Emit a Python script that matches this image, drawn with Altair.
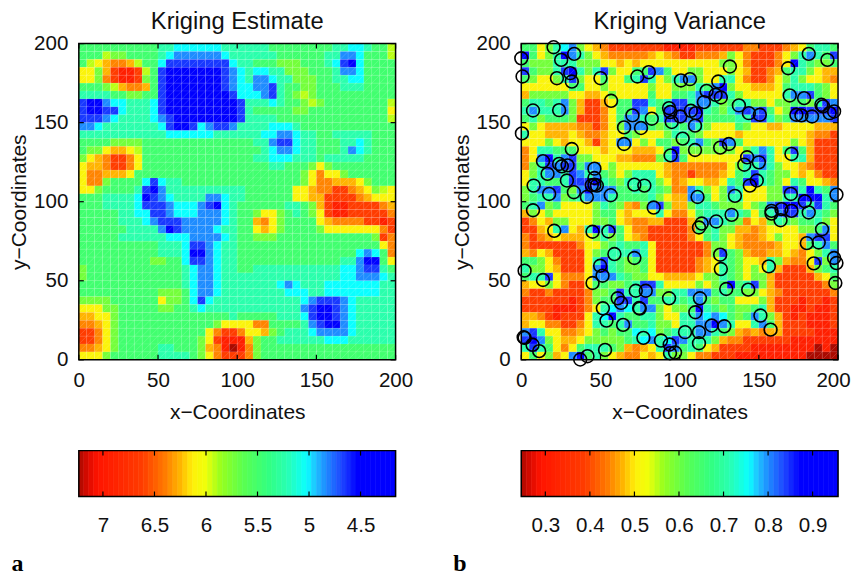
import altair as alt
import numpy as np
import pandas as pd

TITLE_A = "Kriging Estimate"
TITLE_B = "Kriging Variance"
X_TITLE = "x\u2212Coordinates"
Y_TITLE = "y\u2212Coordinates"
TICKS = [0, 50, 100, 150, 200]
BAR_TICKS_A = [7, 6.5, 6, 5.5, 5, 4.5]
BAR_TICKS_B = [0.3, 0.4, 0.5, 0.6, 0.7, 0.8, 0.9]
BAR_DOMAIN_A = [7.234, 4.16]
BAR_DOMAIN_B = [0.246, 0.957]

COLOR_POS = [0, .03, .06, .2, .27, .32, .36, .40, .45, .52, .60, .66, .72, .745, .78, .83, .88, 1]
COLOR_HEX = ["#aa0a00", "#dc0a00", "#ff1400", "#ff3c00", "#ff7800", "#ffb400", "#fff00a", "#f0ff0a",
             "#96ff1e", "#5aff50", "#32ff82", "#28ffb4", "#0affff", "#1ec8ff", "#1e8cff", "#1e46ff",
             "#0000ff", "#0000ff"]
LEVEL = {"D": 0.0, "R": .1, "r": .2, "o": .28, "O": .32, "y": .37, "l": .43, "h": .49,
         "g": .57, "t": .65, "C": .72, "c": .78, "b": .84, "B": .92}

ROWS_A = [
"gggggggggg ttCCCCCCtt ttttgggggg ggttCCtggl",
"ggglhhgggg tCccccccCt tttttggggg gttccCgggl",
"glyOooOlgg CbbbbbbbbC ttggghhhgg gtCbBCgggg",
"yyhOrRRrlg bBBBBBBBbc CtCCtthhhg ggtccCgggg",
"yyhorRRrhg bBBBBBBBbc CtccCtthhh ggttCCgggg",
"ggghlOooOg bBBBBBBBbc CCccbtgghh gggtttgggg",
"ttttgghhgg bBBBBBBBBb CCCcbtghlh gggggggggg",
"bBBcCCtttC bBBBBBBBBB btttCtgghl hggggggggl",
"bBBbbCtttC bBBBBBBBBB btggggghhg gggggggggy",
"bbbcCttttC cbBBBBBBBB bttttggggg gggggggggl",
"ccCttttttt CbBBbCcbbc ttttCCCtgg gggggggggg",
"tttttttttt tCCCCCCttt tttCCccCtt ggtttttggg",
"gggghhhhgg gggggggggg ggttcbbCtt gggttCtggg",
"ghhyOOylgg gggggggggg gggtCccCtt gggtcCtggg",
"hyOorroygg gggggggggg ggttCCCttt gtttttgggg",
"yOOorroygg gggggggggg ggggttgggh yhgggggggg",
"yooOOOyggg gggggggggg gggggggghy oyyhgggggg",
"yoohggggCb Cttggggggg gggggggghy ooOOOyhggg",
"yyhggggtbB cttttttttt tggggggyyO oorroOyhly",
"gggttttCBb cCttttccCt tggggggyyO OrrrroOyyy",
"gggttttCbb bcCCCcbBCt ggggggttgh OrRRrrrroO",
"gggggttCCb bcCCCcccCt gghyyhgtgh yrRRrrrrro",
"gggggtttCc bbbcccccCt ggOoyhgggg yOoooorrRr",
"ggggggtttt cBbccccCtt ggyOyhgggg hyyyyyyyor",
"gggggttttt tCCCccccCt gghhhggggg ggggggghro",
"gggggggggg tttCbbcCtt gggggggggg ggggggggyo",
"gggggggggg tttCBBcCtt gggggggggg gggggCcCgo",
"gggggggggh hggCbbcCtt gggggggggg gggttcBBgy",
"hggggggggg gggtCccCtt ggtttttttt tttCCcbbtg",
"hggggggggg gggtCccCtt tttttttttt tttCCcccCt",
"gggggggggg gggtCccCtt tttttCcCtt tCCCCCCCtt",
"gggggggggg hhhgCccCtt ttttttCCCt tCCCCCCCtt",
"hhhhgggggg yhhgCbCttt ttttttttCc bbbcCttttt",
"yyyhhggggg hhggtCtttt ttttttttcb BBbcCttttt",
"OOyyhggggg gggggggggt gggggtttCb BBbcCttttt",
"ooOyhggggg ggggggghyy yyooggggtc bBBcCttttt",
"rroyhggggg ggggggyorr oyyOhgtttC ccccCttttt",
"rroyhggggg ggggghyrRR ROhggttttt tCCCtttttt",
"ooOyhggggg ttggghOoRD Rohggggggg gggggggggg",
"yyyhgggggg ttttghyorr rohggggggg gggggggggg",
]

ROWS_B = [
"ggyhtCchyO orrrrrrrRR RRrrrrrroo rrroOygttg",
"BgyhtBcthy OoooooOyOo rroooOhyor rroyhtctgb",
"ghhhttthhh yyOyOyyyyy yyyyyhhyor rroyBtghhg",
"bghhtbBtht bhyyggbcgy yhhyyyhyOr roOgtthyOO",
"ghyyhtbhyy gyygtbtyht cchyyttyor royhthyyOo",
"yyyyyyggyy hyyyyyhyyh hhtgcBhyyO OOygtttghy",
"OhhhhhyyOO yhyyyygyyg gtcbbbthyy yyytccbghy",
"gttgtchOrr Oyggbbtgtb btccthgtth hyhhgghtbc",
"tctttchOrr oyggbcygbb bbBtghtcbc bgyhBBbbbB",
"gthggghrrr oygcctgtbb bcbggggttb bthgcccccb",
"yhyOOOOoor oyhcccghgt gcthyyyghy yOOyyyyOOO",
"tyyOOOyOoo Oyyghyyyht tghyyyyOyy yyyyyyOoor",
"yyyhyOyyOr Oyccyhyggh gtcghbcgyy yyyyhyOrrr",
"oyttgggyyy OyyyOOOygB hhhhhhhyht ctygbgOrrr",
"oycBtcbhhy yyOOooohtb gyyyyyyybc btyyttOrrr",
"ohtbcbbgcc yhyyyyyyOo ooooooyhtt cthyyOorrr",
"yhtcctbctc ghyhtttyOo oroooOygtb tghhyOyorr",
"yttggtbbbB tghtttthyo OyyOOytgbB tghytgyyOo",
"htccbghcBc ccggtgtgho octhyhctyy yhhbbtBtgc",
"hgttchgtcc ctggggthyO Occgyhttyy yhhttBBBtc",
"gtchgyyyyh tghOohcbhO Ohttghhhyh gcbBBbtbtg",
"Ohyhyyyyyh ggyOyyytyo oygtttctgy gtcbbtctgh",
"royOhhyyyh hgyOooOOrr rOhcctghoy Ohtghggthy",
"rrOytcyOtB tbgyoorrrr roggthhOOo Oyyyyhhgcy",
"oroOyOOOyh thgyOorrrr roygthyOoo OyhyyOcbby",
"orrrrrroyy hgtggtyrrr rrrohhyOoo ooOyyOgtcg",
"OoyOrrrryh gtttctyrrr rrrohbghOo oOOyOoyhtc",
"gghyorrryt btghggyrrr rroOytghyy OthOooybhc",
"thhyOrrryc Btghhgyrrr rroOytghyh ytOrrrOhgt",
"gttbyoooyc cctghhyyOO OOyhhtghyh hOrrrrrOyg",
"Oyyhyorryg ghhgtbbtyy yyhyhgBgtb hOrrrrrroh",
"orrorrrroh hgbttcchht tcccgtgghh yOorrrrrro",
"rrrrrrRroh ggbbtbggtt gtcghggyyy hOrrrRrrRr",
"rrrrRRRroy tCcCtcchyh hgBtghghhg tOrrRRrRRr",
"OOorRrrryt CBtggtthyy ttcCcCghgc thOrRrRRRr",
"Oyyoorroyt tgtcggthhy ttccBctyyt cgOrrrRRRr",
"cbtyyooOyh ghggCtChgt ttcctghOoO oOOrrrrRRR",
"bBchyOOyhh hhhgtCctCb cttthOoorr rrrrRRRRRR",
"tbtgyoygtt tghOoOytbc gtgyOrrrrR RRRRRRRDRD",
"ygyhOycBgt hyOooyOyth hyoorrrRRR RRRRRRDDDD",
]

PTS_X = [20.4,0,25.2,33.4,.8,22.5,30.9,31.9,50,73.3,80.5,100.8,106.5,131.7,124.4,168.5,181.5,193.3,117,122.7,126,115.3,169.5,178.6,189.5,190.5,137.4,143.7,150.6,7.4,23.9,56.7,93.3,94.1,95,100.4,107.1,110.1,109.7,70.2,82.4,64.9,75.6,.4,64.9,101.9,109.7,94.3,125.6,131.1,31.9,13.7,23.9,25.6,29.2,16.6,28.8,46.2,7.8,17.6,33.2,41.4,46.2,44.5,46.2,47.7,71.4,77.7,56.5,111.3,134.9,170.6,142.6,140.8,150,148.7,144.3,170.2,179,199,173.7,176.9,183.6,194.7,197.5,
7.4,83.6,158,158,164.3,170.6,181.5,163.7,132.8,123.1,113.9,112.2,189.9,20.8,45,55,180.3,187.8,58.8,71.4,125.6,126,49.8,51.3,45,156.3,184.7,197.5,199,2.1,13.7,198.3,129.4,143.3,72.3,78.6,60.9,63,93.3,112.8,51.5,74.4,74.8,109.9,53.8,64.3,151,157.4,120.2,128.2,103.4,112.2,112.2,77.1,88.2,93.7,93.9,97.1,52.9,41.8,37.2,1.5,2.1,7.1,11.3]
PTS_Y = [197.7,190.7,189.7,193.5,179.2,178.1,181.3,176,178.1,179.2,181.9,176.7,177.5,185.5,176,184.4,193.5,189.7,170.1,167.6,165.9,163,167.2,165.5,161.3,160.3,160.9,156,155,157.7,157.9,163.8,159.2,156.7,150.4,153.9,157.5,156,148.1,154.6,152.5,147,146.6,143.2,136.5,139.9,132.7,129.3,134.2,136.5,133.3,125.6,123.9,122.4,123,117.6,113.4,120.9,110.2,104.9,106,103,115,110.4,110.8,110.2,110.8,110.2,104.1,103,103.7,130.2,128.1,123.4,124.9,113.4,110.2,104.9,100.3,104.5,155,154.6,153.9,156,157.1,
94.6,96.3,94.2,92.5,95.3,94.2,93.2,88.3,91.7,87.5,86.2,83.7,82.6,81.6,81,81.2,73.8,74.2,66.9,64.4,66.5,57.4,59.5,53.2,48.6,59.1,61,64.4,61.2,56.4,50.5,48.6,44.8,44.4,43.7,43.7,38.9,36,38.9,38.9,32.6,32.8,32.4,30.1,24.8,22.1,28,19.1,21.7,21.2,17.5,17.5,10.5,13.9,12.2,9.7,4.2,4.6,6.3,2.3,.2,14.3,13.9,9.5,5.5]

W = 317.5
H = 317
BAR_H = 46
FONT = "Liberation Sans"
LABEL_SIZE = 20.6
TITLE_SIZE = 21


def grid_frame(rows, dom):
    recs = []
    for r, row in enumerate(rows):
        s = row.replace(" ", "").ljust(40, "g")[:40]
        for c, ch in enumerate(s):
            recs.append({"x": c * 5, "x2": c * 5 + 5, "y": 200 - r * 5 - 5, "y2": 200 - r * 5,
                         "v": dom[0] + (dom[1] - dom[0]) * LEVEL[ch]})
    return pd.DataFrame(recs)


def color_scale(dom):
    return alt.Scale(domain=[dom[0] + (dom[1] - dom[0]) * p for p in COLOR_POS], range=COLOR_HEX,
                     interpolate="rgb")


def frame():
    return alt.Chart(pd.DataFrame({"a": [0]})).mark_rect(filled=False, stroke="black", strokeWidth=1.5).encode(
        x=alt.value(0), x2=alt.value(W), y=alt.value(0), y2=alt.value(H))


def panel(rows, dom, title, extra=None, last_shift=0):
    df = grid_frame(rows, dom)
    xs = alt.Scale(domain=[0, 200], nice=False, zero=False)
    ys = alt.Scale(domain=[0, 200], nice=False, zero=False)
    xax = alt.Axis(values=TICKS, ticks=False, domain=False, grid=False, title=X_TITLE, labelPadding=11,
                   titlePadding=10, labelFontSize=LABEL_SIZE, titleFontSize=TITLE_SIZE, labelFont=FONT, titleFont=FONT,
                   titleFontWeight="normal", labelColor="#111", titleColor="#111", format="d", labelFlush=False,
                   labelOffset={"condition": {"test": "datum.value === 200", "value": last_shift}, "value": 0})
    yax = alt.Axis(values=TICKS, ticks=False, domain=False, grid=False, title=Y_TITLE, labelPadding=11,
                   titlePadding=4, labelFontSize=LABEL_SIZE, titleFontSize=TITLE_SIZE, labelFont=FONT, titleFont=FONT,
                   titleFontWeight="normal", labelColor="#111", titleColor="#111", format="d", labelFlush=False)
    rect = alt.Chart(df).mark_rect(stroke="white", strokeWidth=0.5, strokeOpacity=0.15).encode(
        x=alt.X("x:Q", scale=xs, axis=xax), x2="x2:Q",
        y=alt.Y("y:Q", scale=ys, axis=yax), y2="y2:Q",
        color=alt.Color("v:Q", scale=color_scale(dom), legend=None))
    diag = alt.Chart(df).mark_rule(stroke="white", strokeWidth=0.5, strokeOpacity=0.3).encode(
        x=alt.X("x:Q", scale=xs), x2="x2:Q", y=alt.Y("y:Q", scale=ys), y2="y2:Q")
    tdf = pd.DataFrame({"t": TICKS})
    tick = {"stroke": "black", "strokeWidth": 1.2}
    layers = [rect, diag,
              alt.Chart(tdf).mark_rule(**tick).encode(x=alt.X("t:Q", scale=xs), y=alt.value(H - 5), y2=alt.value(H)),
              alt.Chart(tdf).mark_rule(**tick).encode(x=alt.X("t:Q", scale=xs), y=alt.value(0), y2=alt.value(5)),
              alt.Chart(tdf).mark_rule(**tick).encode(y=alt.Y("t:Q", scale=ys), x=alt.value(0), x2=alt.value(5)),
              alt.Chart(tdf).mark_rule(**tick).encode(y=alt.Y("t:Q", scale=ys), x=alt.value(W - 5), x2=alt.value(W)),
              frame()]
    if extra is not None:
        layers.append(extra)
    return alt.layer(*layers).properties(
        width=W, height=H,
        title=alt.TitleParams(title, font=FONT, fontSize=23.8, fontWeight="normal", color="#111", offset=0))


def bar(dom, ticks, letter):
    edges = np.linspace(dom[0], dom[1], 65)
    df = pd.DataFrame({"a": edges[:-1], "b": edges[1:], "m": (edges[:-1] + edges[1:]) / 2})
    xs = alt.Scale(domain=dom, nice=False, zero=False)
    ax = alt.Axis(values=ticks, ticks=False, domain=False, grid=False, title=letter, labelPadding=19,
                  labelFontSize=LABEL_SIZE, labelFont=FONT, labelColor="#111", labelFlush=False,
                  titleFont="Liberation Serif", titleFontWeight="bold", titleFontSize=24, titleColor="black",
                  titleX=-62, titleY=74, titleAlign="center", titleBaseline="alphabetic",
                  labelExpr="format(datum.value,'~g')")
    r = alt.Chart(df).mark_rect(strokeWidth=0.6).encode(
        x=alt.X("a:Q", scale=xs, axis=ax), x2="b:Q",
        color=alt.Color("m:Q", scale=color_scale(dom), legend=None),
        stroke=alt.Color("m:Q", scale=color_scale(dom), legend=None))
    tdf = pd.DataFrame({"t": ticks})
    tick = {"stroke": "black", "strokeWidth": 1.2}
    return alt.layer(
        r,
        alt.Chart(tdf).mark_rule(**tick).encode(x=alt.X("t:Q", scale=xs), y=alt.value(0), y2=alt.value(5)),
        alt.Chart(tdf).mark_rule(**tick).encode(x=alt.X("t:Q", scale=xs), y=alt.value(BAR_H - 5), y2=alt.value(BAR_H)),
        alt.Chart(pd.DataFrame({"a": [0]})).mark_rect(filled=False, stroke="black", strokeWidth=1.5).encode(
            x=alt.value(0), x2=alt.value(W), y=alt.value(0), y2=alt.value(BAR_H)),
    ).properties(width=W, height=BAR_H)


pts = pd.DataFrame({"x": PTS_X, "y": PTS_Y})
circles = alt.Chart(pts).mark_point(filled=False, stroke="black", strokeWidth=1.6, size=165, opacity=1).encode(
    x=alt.X("x:Q", scale=alt.Scale(domain=[0, 200], nice=False, zero=False)),
    y=alt.Y("y:Q", scale=alt.Scale(domain=[0, 200], nice=False, zero=False)))

chart = alt.concat(
    panel(ROWS_A, BAR_DOMAIN_A, TITLE_A),
    panel(ROWS_B, BAR_DOMAIN_B, TITLE_B, circles, last_shift=-5),
    bar(BAR_DOMAIN_A, BAR_TICKS_A, "a"),
    bar(BAR_DOMAIN_B, BAR_TICKS_B, "b"),
    columns=2, spacing={"row": 27, "column": 37.5},
).resolve_scale(color="independent", stroke="independent", x="independent", y="independent").properties(
    padding={"left": 0, "top": 1, "right": 0, "bottom": 0}
).configure_view(strokeWidth=0)

chart.save("out.html", embed_options={"renderer": "svg", "actions": False})
